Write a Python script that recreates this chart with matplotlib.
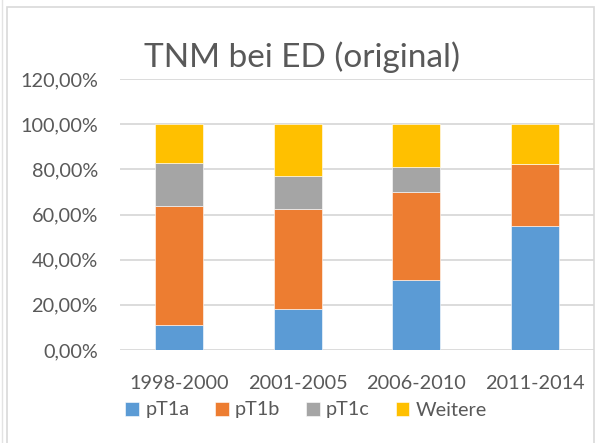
import matplotlib
matplotlib.use("Agg")
import matplotlib.pyplot as plt
from matplotlib.patches import Rectangle
from matplotlib.ticker import FuncFormatter

# Daten (Anteile in %)
zeitraeume = ["1998-2000", "2001-2005", "2006-2010", "2011-2014"]
pT1a = [11.1, 18.2, 31.2, 54.7]
pT1b = [52.7, 44.2, 38.9, 27.7]
pT1c = [19.0, 14.7, 11.1, 0.0]
weitere = [17.2, 22.9, 18.8, 17.6]

serien = [("pT1a", pT1a, "#5B9BD5"),
          ("pT1b", pT1b, "#ED7D31"),
          ("pT1c", pT1c, "#A5A5A5"),
          ("Weitere", weitere, "#FFC000")]

plt.rcParams['font.family'] = ['Lato', 'DejaVu Sans']
grau = "#595959"

fig = plt.figure(figsize=(5.95, 4.43), dpi=100, facecolor="white")
ax = fig.add_axes([120/595, 93/443, 474/595, 271/443])

x = range(len(zeitraeume))
unten = [0.0] * len(zeitraeume)
for name, werte, farbe in serien:
    ax.bar(x, werte, bottom=unten, width=0.405, color=farbe, label=name,
           edgecolor="white", linewidth=0.4, zorder=3)
    unten = [u + w for u, w in zip(unten, werte)]

ax.set_xlim(-0.5, 3.5)
ax.set_ylim(0, 120)
ax.set_yticks(range(0, 121, 20))
ax.yaxis.set_major_formatter(FuncFormatter(lambda v, p: f"{v:.2f}".replace(".", ",") + "%"))
ax.set_xticks(list(x))
ax.set_xticklabels(zeitraeume)
ax.grid(axis="y", color="#d9d9d9", linewidth=1.3, zorder=0)
for s in ax.spines.values():
    s.set_visible(False)
ax.tick_params(axis="both", length=0, labelcolor=grau, labelsize=14.3)
ax.tick_params(axis="x", pad=18)
ax.tick_params(axis="y", pad=16)

# TITEL
fig.text(302/595, 1 - 57/443, "TNM bei ED (original)", ha="center", va="center",
         fontsize=24, color=grau)

# LEGENDE
fig.legend(loc="center", bbox_to_anchor=(306/595, 1 - 410/443), ncol=4,
           frameon=False, fontsize=14.3, labelcolor=grau, handlelength=0.7,
           handleheight=0.7, handletextpad=0.3, columnspacing=1.3)

# RAHMEN
fig.patches.append(Rectangle((7/595, -0.01), 587/595, 1 - 7/443 + 0.01,
                             transform=fig.transFigure, fill=False,
                             edgecolor="#d9d9d9", linewidth=1.2))
fig.lines.append(plt.Line2D([2/595, 2/595], [0, 1], transform=fig.transFigure,
                            color="#e3e3e3", linewidth=1))

fig.savefig("out.png", dpi=100)
